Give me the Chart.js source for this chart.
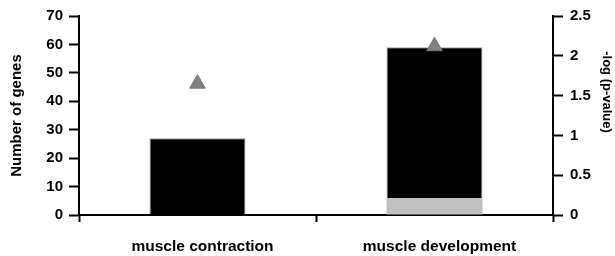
<!DOCTYPE html>
<html>
<head>
<meta charset="utf-8">
<script src="https://cdn.jsdelivr.net/npm/chart.js@4"></script>
<style>
  html, body { margin: 0; padding: 0; background: #fff; }
  #wrap { width: 615px; height: 256px; }
</style>
</head>
<body>
<div id="wrap"><canvas id="genesChart" width="615" height="256"></canvas></div>
<script>
const categories = ["muscle contraction", "muscle development"];
const grayGenes = [0, 6];
const blackGenes = [27, 53];
const logP = [1.65, 2.12];

const fontFamily = "'Liberation Sans', Arial, sans-serif";

const data = {
	labels: categories,
	datasets: [
		{
			type: "line",
			data: logP,
			yAxisID: "y1",
			showLine: false,
			pointStyle: "triangle",
			pointRadius: 9,
			pointHoverRadius: 9,
			backgroundColor: "#808080",
			borderColor: "#777777",
			borderWidth: 1,
			order: 0,
		},
		{
			data: grayGenes,
			backgroundColor: "#c0c0c0",
			borderColor: "#c0c0c0",
			borderWidth: 0,
			yAxisID: "y",
			order: 1,
		},
		{
			data: blackGenes,
			backgroundColor: "#000000",
			borderColor: "#a0a0a0",
			borderWidth: 1,
			yAxisID: "y",
			order: 1,
		},
	],
};

const tickFont = { family: fontFamily, size: 15, weight: "bold" };

// right axis title sits a bit above the middle in the original, so draw it by hand
const rightTitle = {
	id: "rightTitle",
	afterDraw(chart) {
		const c = chart.ctx;
		c.save();
		c.translate(607, 92);
		c.rotate(Math.PI / 2);
		c.font = "bold 13px " + fontFamily;
		c.fillStyle = "#000";
		c.textAlign = "center";
		c.textBaseline = "middle";
		c.fillText("-log (p-value)", 0, 0);
		c.restore();
	},
};

const config = {
	type: "bar",
	data: data,
	options: {
		responsive: false, // fixed size canvas
		maintainAspectRatio: false,
		animation: false,
		layout: { padding: { top: 15, left: 0, right: 0, bottom: 0 } },
		plugins: { legend: { display: false }, tooltip: { enabled: false } },
		datasets: { bar: { barPercentage: 0.405, categoryPercentage: 1 } },
		scales: {
			x: {
				stacked: true,
				grid: { drawOnChartArea: false, drawTicks: true, tickLength: 7, tickWidth: 2, color: "#000", offset: true },
				border: { display: true, color: "#000", width: 2 },
				ticks: { color: "#000", font: { family: fontFamily, size: 15.5, weight: "bold" }, padding: 15, maxRotation: 0, labelOffset: 5 },
				afterFit: (scale) => { scale.height = 41; },
			},
			y: {
				position: "left",
				stacked: true,
				min: 0,
				max: 70,
				grid: { drawOnChartArea: false, drawTicks: true, tickLength: 10, tickWidth: 2, color: "#000" },
				border: { display: true, color: "#000", width: 2 },
				ticks: { stepSize: 10, color: "#000", font: tickFont, padding: 6 },
				title: { display: true, text: "Number of genes", color: "#000", font: { family: fontFamily, size: 15, weight: "bold" }, padding: { top: 8, bottom: 0 } },
				afterFit: (scale) => { scale.width = 79; },
			},
			y1: {
				position: "right",
				min: 0,
				max: 2.5,
				grid: { drawOnChartArea: false, drawTicks: true, tickLength: 10, tickWidth: 2, color: "#000" },
				border: { display: true, color: "#000", width: 2 },
				ticks: { stepSize: 0.5, color: "#000", font: tickFont, padding: 7, callback: (v) => String(v) },
				afterFit: (scale) => { scale.width = 62; },
			},
		},
	},
	plugins: [rightTitle],
};

// Draw the chart
const ctx = document.getElementById("genesChart").getContext("2d");
new Chart(ctx, config);
</script>
</body>
</html>
